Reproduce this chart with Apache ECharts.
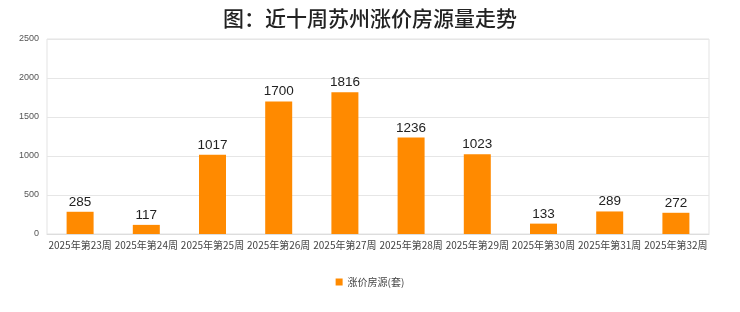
<!DOCTYPE html>
<html><head><meta charset="utf-8">
<script src="https://cdn.jsdelivr.net/npm/echarts@6/dist/echarts.min.js"></script>
<style>html,body{margin:0;padding:0;background:#fff}#c{width:740px;height:312px}</style>
</head><body><div id="c"></div>
<script>
const categories = ['2025年第23周','2025年第24周','2025年第25周','2025年第26周','2025年第27周','2025年第28周','2025年第29周','2025年第30周','2025年第31周','2025年第32周'];
const values = [285,117,1017,1700,1816,1236,1023,133,289,272];
const seriesName = '涨价房源(套)';
const titleText = '图：近十周苏州涨价房源量走势';
const FONT = '"Noto Sans CJK SC", "Noto Sans", sans-serif';
const NUMFONT = '"Liberation Sans", "Noto Sans CJK SC", sans-serif';
const chart = echarts.init(document.getElementById('c'));
chart.setOption({
  animation:false,
  backgroundColor:'#fff',
  title:{text:titleText,left:'center',top:3,textStyle:{fontFamily:FONT,fontSize:21,fontWeight:500,color:'#222'}},
  grid:{left:47,right:31,top:39,bottom:78,show:true,borderColor:'#e3e3e3',borderWidth:1},
  legend:{bottom:20,left:'center',itemWidth:7,itemHeight:7,icon:'rect',data:[seriesName],textStyle:{fontFamily:FONT,fontSize:10,color:'#444'}},
  xAxis:{type:'category',data:categories,axisTick:{show:false},axisLine:{lineStyle:{color:'#ddd'}},
    axisLabel:{interval:0,fontFamily:FONT,fontSize:10,color:'#444',margin:6}},
  yAxis:{type:'value',min:0,max:2500,interval:500,axisLine:{show:false},axisTick:{show:false},
    splitLine:{lineStyle:{color:'#e6e6e6'}},
    axisLabel:{fontFamily:NUMFONT,fontSize:9,color:'#555',margin:8,formatter:v=>String(v)}},
  series:[{name:seriesName,type:'bar',data:values,barWidth:27,itemStyle:{color:'#FF8A00'},
    label:{show:true,position:'top',distance:3,fontFamily:NUMFONT,fontSize:13.5,color:'#222'}}]
});
</script></body></html>
